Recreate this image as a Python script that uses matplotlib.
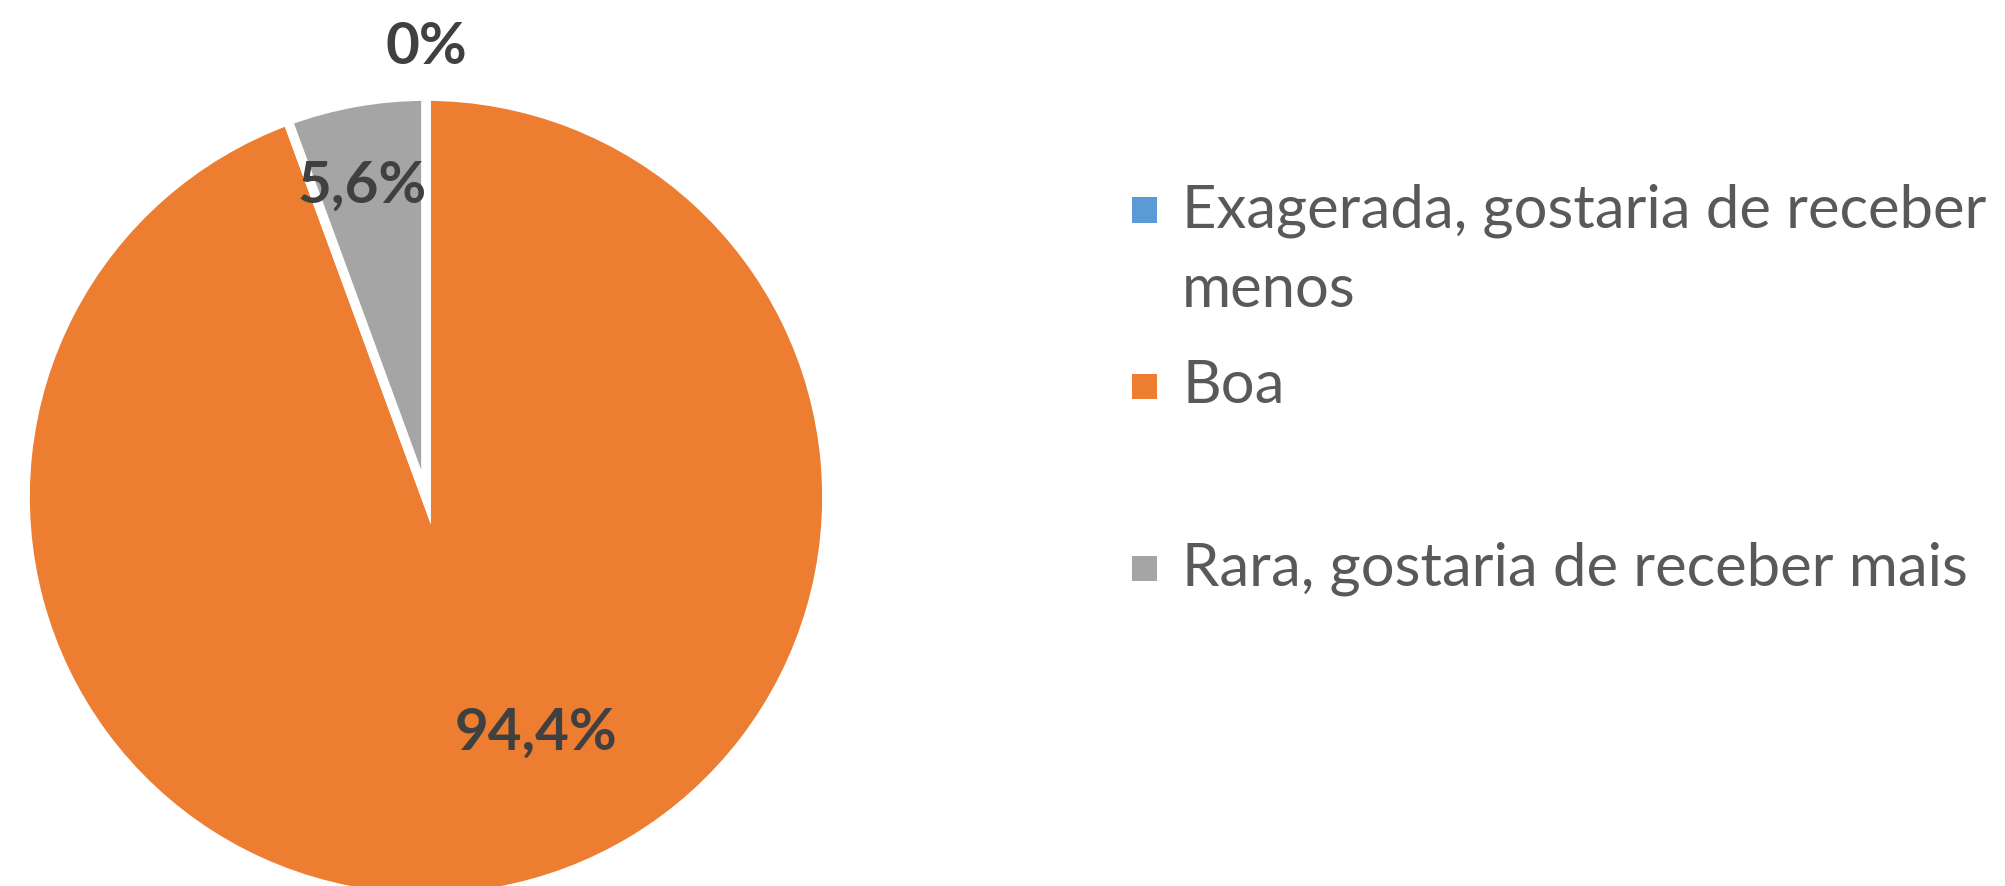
import matplotlib.pyplot as plt
import numpy as np
from matplotlib.patches import Rectangle

categories = ["Exagerada, gostaria de receber\nmenos", "Boa", "Rara, gostaria de receber mais"]
values = [0.0, 94.4, 5.6]
value_labels = ["0%", "94,4%", "5,6%"]
colors = ["#5B9BD5", "#ED7D31", "#A5A5A5"]

W, H = 2005, 886


def fmt_pos(angle_deg, dist):
    a = np.deg2rad(angle_deg)
    return dist * np.cos(a), dist * np.sin(a)


def main():
    plt.rcParams["font.family"] = ["Lato", "DejaVu Sans"]
    fig = plt.figure(figsize=(W / 100, H / 100), dpi=100)

    # pie centre / radius in pixels (from top-left)
    cx, cy, r = 426, 497, 401
    ax = fig.add_axes([(cx - r) / W, (H - cy - r) / H, 2 * r / W, 2 * r / H])
    wedges, _ = ax.pie(values, colors=colors, startangle=90, counterclock=False,
                       radius=1.0, wedgeprops=dict(edgecolor="white", linewidth=7))
    ax.set_xlim(-1, 1)
    ax.set_ylim(-1, 1)
    ax.set_aspect("equal")
    ax.axis("off")

    # label placement: excel-ish best fit (angle offset from mid, distance)
    placement = [(0.0, 1.12), (15.0, 0.65), (1.5, 0.79)]
    for w, lab, (off, dist) in zip(wedges, value_labels, placement):
        mid = (w.theta1 + w.theta2) / 2 + off
        x, y = fmt_pos(mid, dist)
        ax.text(x, y, lab, ha="center", va="center", fontsize=42,
                fontweight="bold", color="#404040", clip_on=False)

    # legend drawn by hand to mimic excel spacing
    baselines = [227, 403, 585]
    line_gap = 80
    for cat, col, base in zip(categories, colors, baselines):
        mc = base - 17
        fig.patches.append(Rectangle((1132 / W, (H - mc - 12.5) / H), 25 / W, 25 / H,
                                     transform=fig.transFigure, facecolor=col,
                                     edgecolor="none"))
        for i, line in enumerate(cat.split("\n")):
            fig.text(1182 / W, (H - base - i * line_gap) / H, line, ha="left",
                     va="baseline", fontsize=43, color="#595959")

    fig.savefig("out.png", dpi=100)
    plt.close(fig)


if __name__ == "__main__":
    main()
